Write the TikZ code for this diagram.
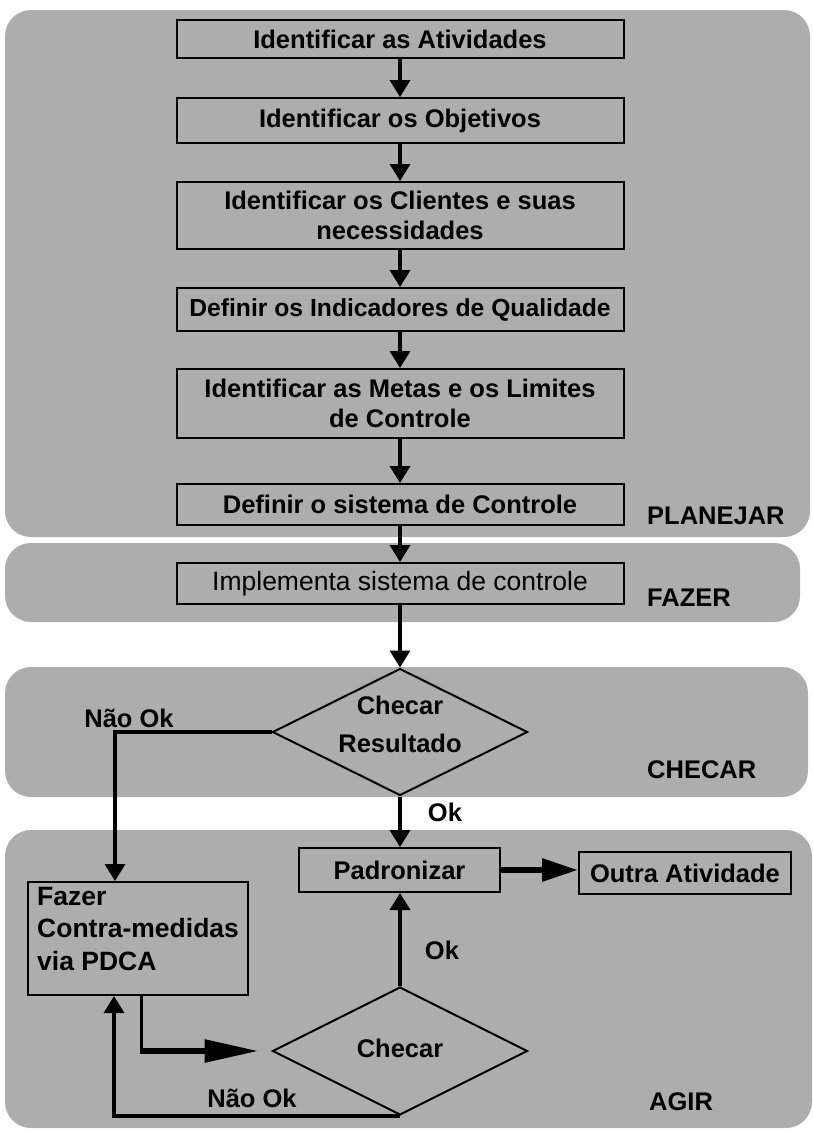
\documentclass[tikz,border=0pt]{standalone}
\usepackage{fontspec}
\setmainfont{Liberation Sans}
\usetikzlibrary{shapes.geometric,arrows.meta}
\definecolor{panelgray}{gray}{0.68}
\tikzset{
  panel/.style={fill=panelgray, draw=none, rounded corners=26pt},
  stepbox/.style={draw=black, line width=2pt, inner sep=0pt, align=center,
    minimum width=447pt, font=\fontsize{25.5}{30}\selectfont\bfseries},
  decision/.style={draw=black, line width=2pt, shape=diamond, inner sep=0pt,
    minimum width=255pt, minimum height=127pt},
  lbl/.style={inner sep=0pt, font=\fontsize{25.5}{30}\selectfont\bfseries},
  flow/.style={line width=3.4pt, -{Triangle[length=17pt,width=20pt]}},
  bigflow/.style={line width=6pt, -{Triangle[length=36pt,width=22pt]}},
}
\begin{document}
\begin{tikzpicture}[x=1pt,y=-1pt]
  \useasboundingbox (0,0) rectangle (812,1133);
  % phase bands
  \fill[panel] (5,10) rectangle (810,537);
  \fill[panel] (5,543) rectangle (800,622);
  \fill[panel] (5,667) rectangle (808,797);
  \fill[panel] (5,830) rectangle (812,1128);

  % planning steps
  \node[stepbox, minimum height=38pt] (b1) at (400,39) {Identificar as Atividades};
  \node[stepbox, minimum height=45pt] (b2) at (400,120.5) {Identificar os Objetivos};
  \node[stepbox, minimum height=67pt] (b3) at (400,215.5) {Identificar os Clientes e suas\\necessidades};
  \node[stepbox, minimum height=43pt, font=\fontsize{24.7}{30}\selectfont\bfseries] (b4) at (400,309.5) {Definir os Indicadores de Qualidade};
  \node[stepbox, minimum height=69pt] (b5) at (400,403.5) {Identificar as Metas e os Limites\\de Controle};
  \node[stepbox, minimum height=41pt] (b6) at (400,504.5) {Definir o sistema de Controle};
  \node[stepbox, minimum height=41pt, font=\fontsize{26.5}{30}\selectfont] (b7) at (400,583.5) {Implementa sistema de controle};

  % checking and acting
  \node[decision] (d1) at (400,732) {};
  \node[lbl, align=center, font=\fontsize{25.5}{38}\selectfont\bfseries] (d1t) at (400,724) {Checar\\Resultado};
  \node[stepbox, minimum width=201pt, minimum height=44pt] (pad) at (399.5,870) {Padronizar};
  \node[stepbox, minimum width=212pt, minimum height=42pt] (out) at (685,873) {Outra Atividade};
  \node[draw=black, line width=2pt, minimum width=220pt, minimum height=113pt, inner sep=0pt] (fz) at (138,938.5) {};
  \node[lbl, anchor=north west, align=left, font=\fontsize{26.5}{32.5}\selectfont\bfseries] (fzt) at (37,887) {Fazer\\Contra-medidas\\via PDCA};
  \node[decision, minimum height=128pt] (d2) at (400,1051) {};
  \node[lbl] (d2t) at (400,1048) {Checar};

  % phase names
  \node[lbl, anchor=west] (pl) at (647,516) {PLANEJAR};
  \node[lbl, anchor=west] (fa) at (647,598) {FAZER};
  \node[lbl, anchor=west] (ch) at (647,770) {CHECAR};
  \node[lbl, anchor=west] (ag) at (649,1102) {AGIR};

  % branch labels
  \node[lbl] (n1) at (129,718) {Não Ok};
  \node[lbl] (ok1) at (445,812) {Ok};
  \node[lbl] (ok2) at (442,950) {Ok};
  \node[lbl] (n2) at (252,1098) {Não Ok};

  % connectors
  \draw[flow] (b1) -- (b2);
  \draw[flow] (b2) -- (b3);
  \draw[flow] (b3) -- (b4);
  \draw[flow] (b4) -- (b5);
  \draw[flow] (b5) -- (b6);
  \draw[flow] (b6) -- (b7);
  \draw[flow] (b7) -- (d1.north);
  \draw[flow] (d1.south) -- (pad.north -| d1.south);
  \draw[flow] (d1.west) -| ([xshift=-23pt]fz.north);
  \draw[flow] (d2.north) -- (pad.south -| d2.north);
  \draw[bigflow] (pad.east) -- (pad.east -| out.west);
  \coordinate (bend) at ([xshift=3pt]fz.south |- d2.west);
  \draw[line width=3pt] ([xshift=3pt]fz.south) -- ([yshift=3pt]bend);
  \draw[bigflow, -{Triangle[length=54pt,width=22pt]}, shorten >=13pt] ([xshift=-1.5pt]bend) -- (d2.west);
  \draw[flow] (d2.south) -| ([xshift=-24pt]fz.south);
\end{tikzpicture}
\end{document}
